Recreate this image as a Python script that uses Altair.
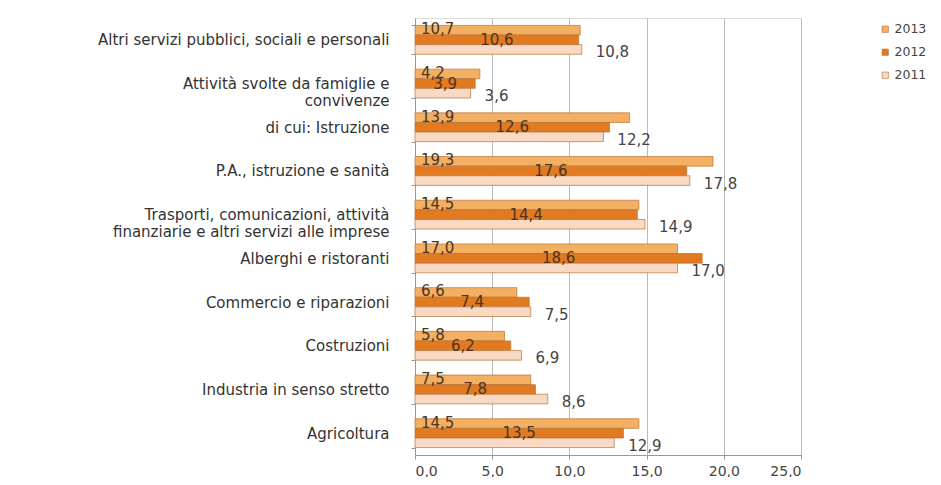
import altair as alt
import pandas as pd

categories = [
    "Altri servizi pubblici, sociali e personali",
    "Attività svolte da famiglie e|convivenze",
    "di cui: Istruzione",
    "P.A., istruzione e sanità",
    "Trasporti, comunicazioni, attività|finanziarie e altri servizi alle imprese",
    "Alberghi e ristoranti",
    "Commercio e riparazioni",
    "Costruzioni",
    "Industria in senso stretto",
    "Agricoltura",
]
years = ["2013", "2012", "2011"]
v2013 = [10.7, 4.2, 13.9, 19.3, 14.5, 17.0, 6.6, 5.8, 7.5, 14.5]
v2012 = [10.6, 3.9, 12.6, 17.6, 14.4, 18.6, 7.4, 6.2, 7.8, 13.5]
v2011 = [10.8, 3.6, 12.2, 17.8, 14.9, 17.0, 7.5, 6.9, 8.6, 12.9]
colors = ["#F3B063", "#E27A22", "#F9D8C4"]

rows = []
for yr, vals in zip(years, [v2013, v2012, v2011]):
    for c, v in zip(categories, vals):
        rows.append({"cat": c, "year": yr, "value": v})
df = pd.DataFrame(rows)

FONT = "DejaVu Sans"
FS = 15

y_enc = alt.Y(
    "cat:N",
    sort=categories,
    scale=alt.Scale(paddingInner=0.34, paddingOuter=0.17),
    axis=alt.Axis(
        title=None,
        labelExpr="split(datum.label, '|')",
        labelFont=FONT,
        labelFontSize=FS,
        labelColor="#333333",
        labelPadding=22,
        labelLineHeight=17,
        labelLimit=0,
        tickBand="extent",
        tickColor="#999999",
        tickSize=4,
        domainColor="#999999",
        grid=False,
    ),
)
yoff = alt.YOffset("year:N", scale=alt.Scale(domain=years))
x_scale = alt.Scale(domain=[0, 25], nice=False)

bars = alt.Chart(df).mark_bar(stroke="#B77236", strokeWidth=0.7).encode(
    x=alt.X(
        "value:Q",
        scale=x_scale,
        axis=alt.Axis(
            title=None,
            values=[0, 5, 10, 15, 20, 25],
            labelExpr="replace(format(datum.value, '.1f'), '.', ',')",
            labelFont=FONT,
            labelFontSize=14,
            labelColor="#444444",
            labelPadding=5,
            gridColor="#BBBBBB",
            domainColor="#999999",
            tickColor="#999999",
            tickSize=4,
        ),
    ),
    y=y_enc,
    yOffset=yoff,
    color=alt.Color(
        "year:N",
        scale=alt.Scale(domain=years, range=colors),
        legend=alt.Legend(
            title=None,
            orient="none",
            legendX=464,
            legendY=5,
            symbolType="square",
            symbolSize=40,
            symbolStrokeColor="#B77236",
            symbolStrokeWidth=0.6,
            labelFont=FONT,
            labelFontSize=12.5,
            labelColor="#444444",
            labelOffset=3,
            rowPadding=10,
        ),
    ),
)

lab13 = alt.Chart(df).transform_filter("datum.year == '2013'").transform_calculate(
    label="replace(format(datum.value, '.1f'), '.', ',')"
).mark_text(
    align="left", baseline="middle", dx=6, dy=-1, font=FONT, fontSize=FS, color="#4A3520"
).encode(
    x=alt.datum(0, scale=x_scale),
    y=alt.Y("cat:N", sort=categories),
    yOffset=yoff,
    text=alt.Text("label:N"),
)

lab12 = alt.Chart(df).transform_filter("datum.year == '2012'").transform_calculate(
    label="replace(format(datum.value, '.1f'), '.', ',')", mid="datum.value / 2"
).mark_text(
    align="center", baseline="middle", font=FONT, fontSize=FS, color="#4A3520"
).encode(
    x=alt.X("mid:Q", scale=x_scale),
    y=alt.Y("cat:N", sort=categories),
    yOffset=yoff,
    text=alt.Text("label:N"),
)

lab11 = alt.Chart(df).transform_filter("datum.year == '2011'").transform_calculate(
    label="replace(format(datum.value, '.1f'), '.', ',')"
).mark_text(
    align="left", baseline="middle", dx=14, dy=3, font=FONT, fontSize=FS, color="#444444"
).encode(
    x=alt.X("value:Q", scale=x_scale),
    y=alt.Y("cat:N", sort=categories),
    yOffset=yoff,
    text=alt.Text("label:N"),
)

chart = alt.layer(bars, lab13, lab12, lab11).properties(
    width=386,
    height=437,
    autosize=alt.AutoSizeParams(type="none"),
    padding={"left": 407, "top": 10, "right": 132, "bottom": 22},
).configure_view(stroke=None).configure(background="white")

chart.save("out.html", embed_options={"renderer": "svg", "actions": False})
